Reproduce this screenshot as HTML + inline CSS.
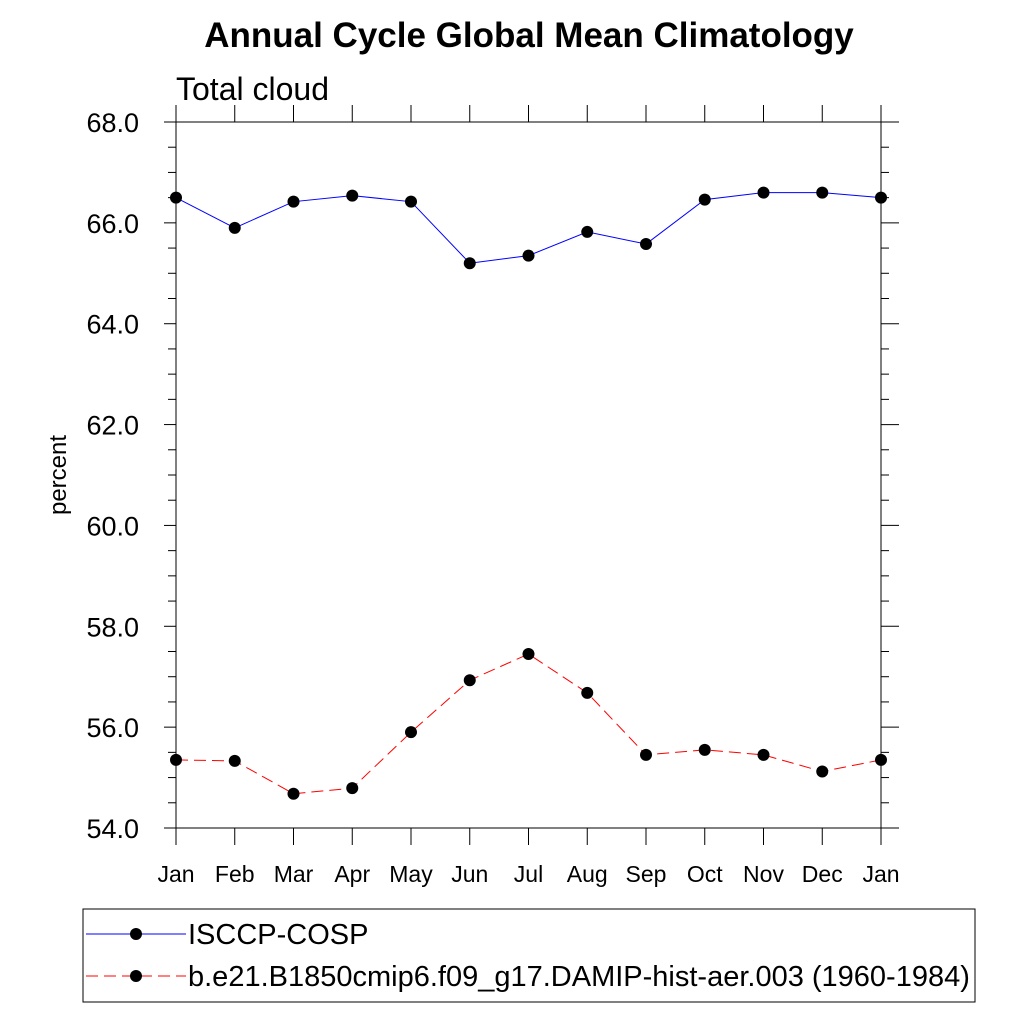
<!DOCTYPE html>
<html><head><meta charset="utf-8"><style>body{margin:0;background:#fff}svg{display:block}text{font-family:"Liberation Sans",sans-serif}</style></head>
<body>
<svg id="c" width="1024" height="1024">
<text x="529" y="47" text-anchor="middle" font-size="35" font-weight="bold">Annual Cycle Global Mean Climatology</text>
<text x="176" y="100" font-size="32">Total cloud</text>
<text transform="translate(66,475) rotate(-90)" text-anchor="middle" font-size="24">percent</text>
<g id="axes"></g><g id="series"></g>
<g>
<rect x="83" y="909" width="892" height="93" fill="none" stroke="#000" stroke-width="1"/>
<g>
<line x1="86" y1="934" x2="186" y2="934" stroke="#00f" stroke-width="1"/><circle cx="136" cy="934" r="6"/>
<text x="188" y="944" font-size="29">ISCCP-COSP</text></g>
<g>
<line x1="86" y1="976" x2="186" y2="976" stroke="#f00" stroke-width="1" stroke-dasharray="12,6"/><circle cx="136" cy="976" r="6"/>
<text x="188" y="986" font-size="29">b.e21.B1850cmip6.f09_g17.DAMIP-hist-aer.003 (1960-1984)</text></g>
</g>
</svg>
<script>
const months=["Jan","Feb","Mar","Apr","May","Jun","Jul","Aug","Sep","Oct","Nov","Dec","Jan"];
const isccp=[66.5,65.9,66.42,66.54,66.42,65.2,65.35,65.82,65.58,66.46,66.6,66.6,66.5];
const model=[55.35,55.33,54.68,54.79,55.9,56.93,57.45,56.68,55.45,55.55,55.45,55.12,55.35];
const yTicks=[54,56,58,60,62,64,66,68];
const L=176,R=881,T=122,B=828,ymin=54,ymax=68;
const NS="http://www.w3.org/2000/svg";
const xs=i=>L+i*(R-L)/(months.length-1);
const ys=v=>B-(v-ymin)/(ymax-ymin)*(B-T);
function mk(t,a,p){const e=document.createElementNS(NS,t);for(const k in a)e.setAttribute(k,a[k]);p.appendChild(e);return e;}
const ax=document.getElementById('axes');
const fr=mk('rect',{x:L,y:T,width:R-L,height:B-T,fill:'none',stroke:'#000','stroke-width':1},ax);


for(let v=ymin;v<=ymax+1e-9;v+=0.5){const maj=Math.abs(v%2)<1e-9;const w=maj?12:8;const y=ys(v);
mk('line',{x1:L-w,y1:y,x2:L,y2:y,stroke:'#000'},ax);mk('line',{x1:R,y1:y,x2:R+w*(maj?1.5:1),y2:y,stroke:'#000'},ax);}
yTicks.forEach(v=>{const t=mk('text',{x:139,y:ys(v)+10,'text-anchor':'end','font-size':27},ax);t.textContent=v.toFixed(1);

});
months.forEach((m,i)=>{const x=xs(i);mk('line',{x1:x,y1:T-17,x2:x,y2:T,stroke:'#000'},ax);mk('line',{x1:x,y1:B,x2:x,y2:B+17,stroke:'#000'},ax);
const t=mk('text',{x:x,y:882,'text-anchor':'middle','font-size':23},ax);t.textContent=m;

});
const sg=document.getElementById('series');
function draw(arr,col,dash,name){const g=mk('g',{},sg);


mk('polyline',{points:arr.map((v,i)=>xs(i)+','+ys(v)).join(' '),fill:'none',stroke:col,'stroke-width':1,'stroke-dasharray':dash},g);
arr.forEach((v,i)=>{const c=mk('circle',{cx:xs(i),cy:ys(v),r:6,fill:'#000'},g);

});}
draw(isccp,'#00f','none','series-isccp');
draw(model,'#f00','12,6','series-model');
</script>
</body></html>
